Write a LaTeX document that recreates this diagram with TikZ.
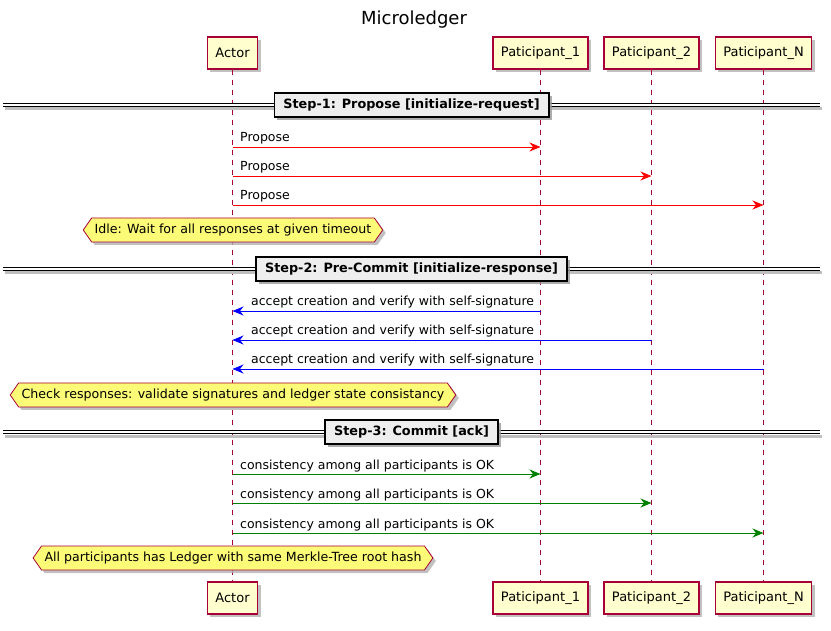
\documentclass[tikz,border=0pt]{standalone}
\usepackage{fontspec}
\setmainfont{DejaVu Sans}
\usetikzlibrary{arrows.meta,shapes.symbols,shadows}
\definecolor{life}{HTML}{A80036}
\definecolor{partfill}{HTML}{FEFECE}
\definecolor{notefill}{HTML}{FBFB77}
\definecolor{divfill}{HTML}{EEEEEE}
\definecolor{msgred}{HTML}{FF0000}
\definecolor{msgblue}{HTML}{0000FF}
\definecolor{msggreen}{HTML}{008000}
\begin{document}
\begin{tikzpicture}[x=1pt,y=-1pt,
  font=\fontsize{13}{15}\selectfont,
  shadowed/.style={drop shadow={shadow xshift=3pt,shadow yshift=-3pt,fill=black!30,opacity=0.8}},
  part/.style={draw=life, fill=partfill, line width=1.1pt, minimum height=32pt,
    inner xsep=8pt, inner ysep=0pt, shadowed},
  lifeline/.style={draw=life, dash pattern=on 5pt off 5pt, line width=0.8pt},
  msg/.style={line width=0.9pt, -{Stealth[length=11pt,width=9pt,inset=3.5pt]}},
  mlabel/.style={inner sep=0pt, anchor=base west, font=\fontsize{12.5}{15}\selectfont},
  divbox/.style={draw=black, fill=divfill, line width=1.7pt, minimum height=24pt,
    inner xsep=9pt, inner ysep=0pt, font=\fontsize{12.8}{15}\selectfont\bfseries,
    drop shadow={shadow xshift=3pt,shadow yshift=-3pt,fill=black!40,opacity=0.8}},
  divline/.style={double=white, double distance=2.2pt, line width=1pt, draw=black},
  divshadow/.style={draw=black!25, line width=3pt},
  note/.style={signal, signal to=west and east, signal pointer angle=110, draw=life,
    fill=notefill, line width=0.8pt, minimum height=24pt, inner xsep=3pt, inner ysep=0pt,
    font=\fontsize{12.6}{15}\selectfont, shadowed}
]
\useasboundingbox (0,0) rectangle (831,631);

% title
\node[font=\fontsize{18}{20}\selectfont] (title) at (414,20) {Microledger};

% participants top
\node[part] (actT) at (232.5,53) {Actor};
\node[part] (p1T) at (540.5,53) {Paticipant\_1};
\node[part] (p2T) at (651.5,53) {Paticipant\_2};
\node[part] (pnT) at (763.5,53) {Paticipant\_N};
% participants bottom
\node[part] (actB) at (232.5,598) {Actor};
\node[part] (p1B) at (540.5,598) {Paticipant\_1};
\node[part] (p2B) at (651.5,598) {Paticipant\_2};
\node[part] (pnB) at (763.5,598) {Paticipant\_N};

% lifelines
\draw[lifeline] (actT.south) -- (actB.north);
\draw[lifeline] (p1T.south) -- (p1B.north);
\draw[lifeline] (p2T.south) -- (p2B.north);
\draw[lifeline] (pnT.south) -- (pnB.north);

% dividers
\foreach \yy/\nm in {105/d1, 269/d2, 432/d3}{
  \coordinate (\nm l) at (3,\yy);
  \coordinate (\nm r) at (820,\yy);
  \draw[divshadow] ([xshift=2pt,yshift=-4pt]\nm l) -- ([xshift=2pt,yshift=-4pt]\nm r);
  \draw[divline] (\nm l) -- (\nm r);
}
\node[divbox] (s1) at (411.5,105) {Step-1: Propose [initialize-request]};
\node[divbox] (s2) at (411.5,269) {Step-2: Pre-Commit [initialize-response]};
\node[divbox] (s3) at (411.5,432) {Step-3: Commit [ack]};

% step 1 messages
\coordinate (a1) at (232.5,147); \coordinate (b1) at (540.5,147);
\coordinate (a2) at (232.5,176); \coordinate (b2) at (651.5,176);
\coordinate (a3) at (232.5,205); \coordinate (b3) at (763.5,205);
\draw[msg, msgred] (a1) -- (b1);
\draw[msg, msgred] (a2) -- (b2);
\draw[msg, msgred] (a3) -- (b3);
\node[mlabel] (l1) at (240,142) {Propose};
\node[mlabel] (l2) at (240,171) {Propose};
\node[mlabel] (l3) at (240,200) {Propose};

\node[note] (n1) at (233,230) {Idle: Wait for all responses at given timeout};

% step 2 messages
\coordinate (a4) at (232.5,311); \coordinate (b4) at (540.5,311);
\coordinate (a5) at (232.5,340); \coordinate (b5) at (651.5,340);
\coordinate (a6) at (232.5,369); \coordinate (b6) at (763.5,369);
\draw[msg, msgblue] (b4) -- (a4);
\draw[msg, msgblue] (b5) -- (a5);
\draw[msg, msgblue] (b6) -- (a6);
\node[mlabel] (l4) at (251,306) {accept creation and verify with self-signature};
\node[mlabel] (l5) at (251,335) {accept creation and verify with self-signature};
\node[mlabel] (l6) at (251,364) {accept creation and verify with self-signature};

\node[note] (n2) at (233,395) {Check responses: validate signatures and ledger state consistancy};

% step 3 messages
\coordinate (a7) at (232.5,474); \coordinate (b7) at (540.5,474);
\coordinate (a8) at (232.5,503); \coordinate (b8) at (651.5,503);
\coordinate (a9) at (232.5,533); \coordinate (b9) at (763.5,533);
\draw[msg, msggreen] (a7) -- (b7);
\draw[msg, msggreen] (a8) -- (b8);
\draw[msg, msggreen] (a9) -- (b9);
\node[mlabel] (l7) at (240,469) {consistency among all participants is OK};
\node[mlabel] (l8) at (240,498) {consistency among all participants is OK};
\node[mlabel] (l9) at (240,528) {consistency among all participants is OK};

\node[note] (n3) at (233,558) {All participants has Ledger with same Merkle-Tree root hash};
\end{tikzpicture}
\end{document}
